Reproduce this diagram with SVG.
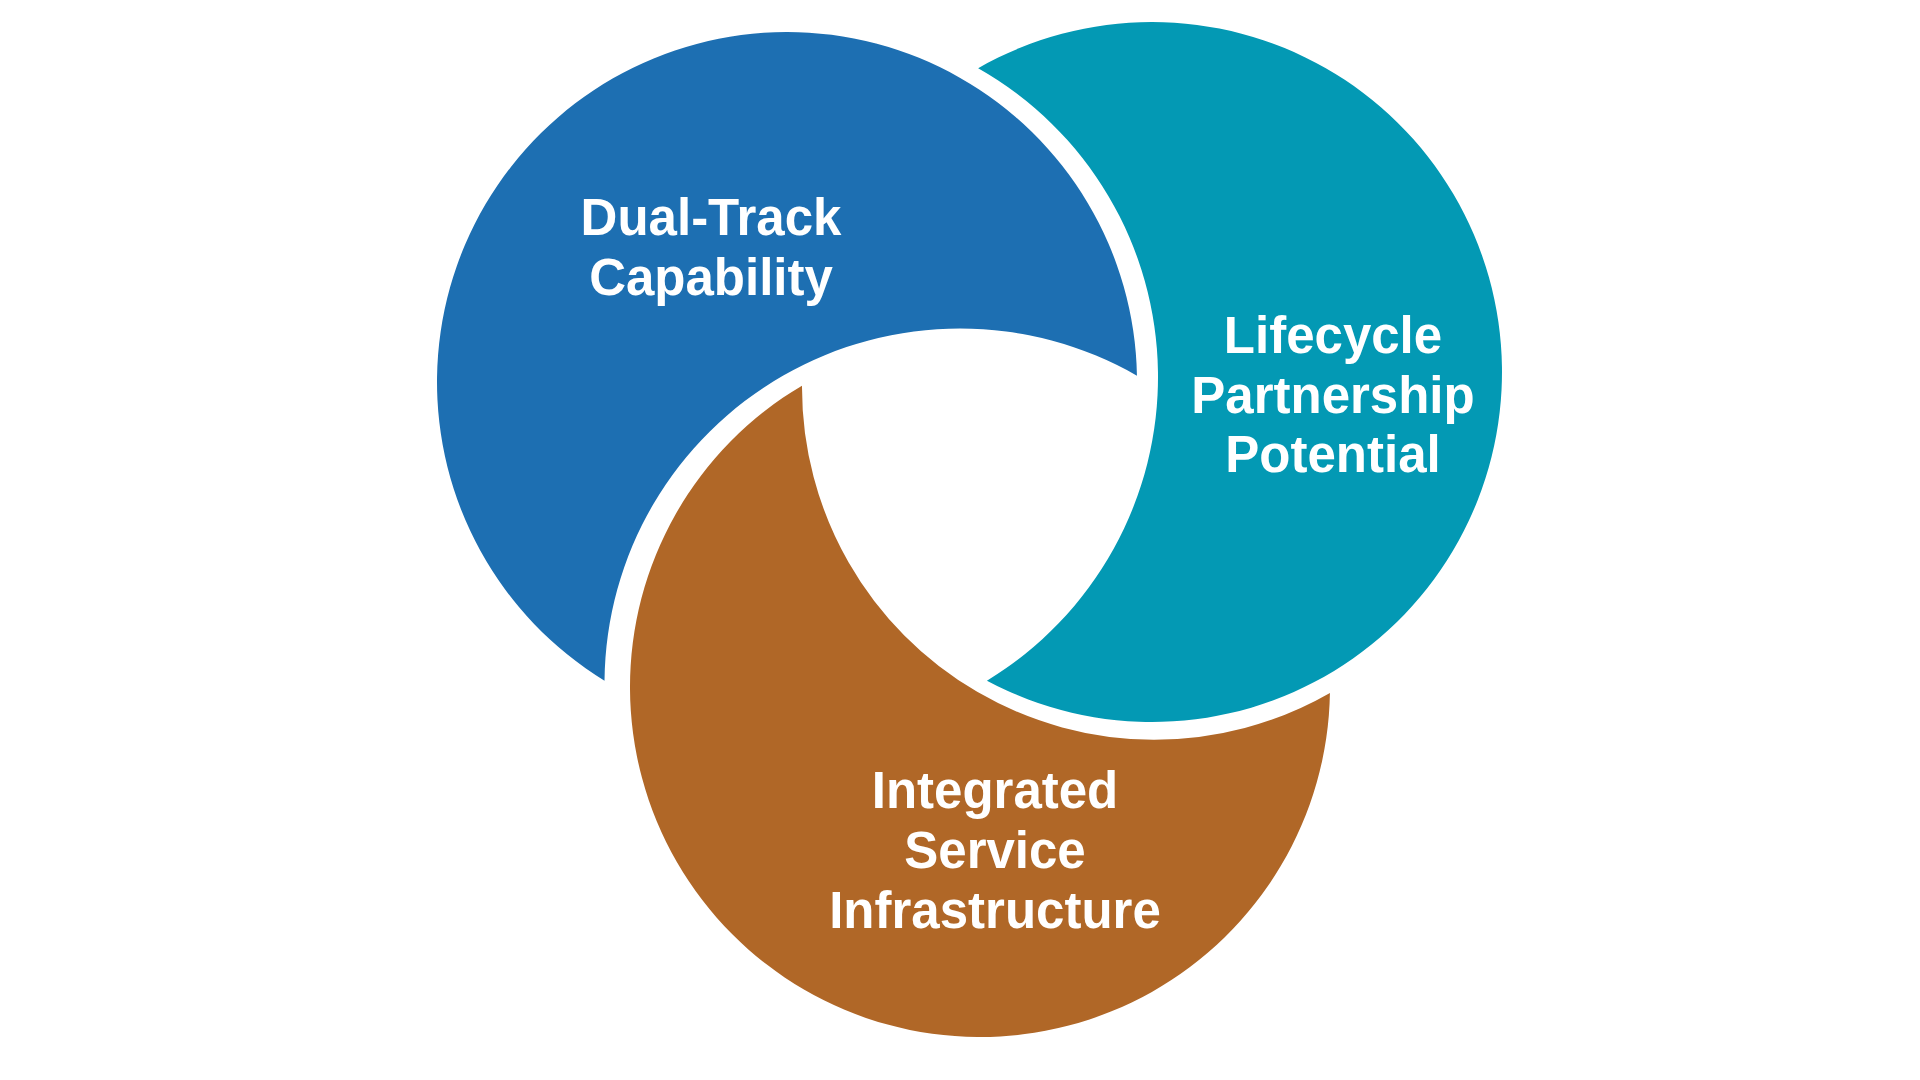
<svg xmlns="http://www.w3.org/2000/svg" width="1920" height="1080" viewBox="0 0 1920 1080">
<style>
.lbl{font-family:"Liberation Sans",Arial,sans-serif;font-weight:bold;font-size:51px;fill:#FFFFFF;text-anchor:middle}
.blue{fill:#1D6FB2}
.teal{fill:#0399B4}
.brown{fill:#B06727}
</style>
<rect width="1920" height="1080" fill="#FFFFFF"/>
<g id="connectors"></g>
<g id="node-dual-track">
<path class="blue" d="M1136.95 375.67 A350 350 0 1 0 604.51 680.67 A355.5 355.5 0 0 1 1136.95 375.67 Z"/>
<text class="lbl" x="711" y="235">Dual-Track</text>
<text class="lbl" x="711" y="295">Capability</text>
</g>
<g id="node-lifecycle">
<path class="teal" d="M978.16 68.22 A350 350 0 1 1 986.94 680.64 A355 355 0 0 0 978.16 68.22 Z"/>
<text class="lbl" x="1333" y="353">Lifecycle</text>
<text class="lbl" x="1333" y="413">Partnership</text>
<text class="lbl" x="1333" y="472">Potential</text>
</g>
<g id="node-integrated">
<path class="brown" d="M802 385.65 A350 350 0 1 0 1329.94 692.93 A352.5 352.5 0 0 1 802 385.65 Z"/>
<text class="lbl" x="995" y="808">Integrated</text>
<text class="lbl" x="995" y="868">Service</text>
<text class="lbl" x="995" y="928">Infrastructure</text>
</g>
</svg>
